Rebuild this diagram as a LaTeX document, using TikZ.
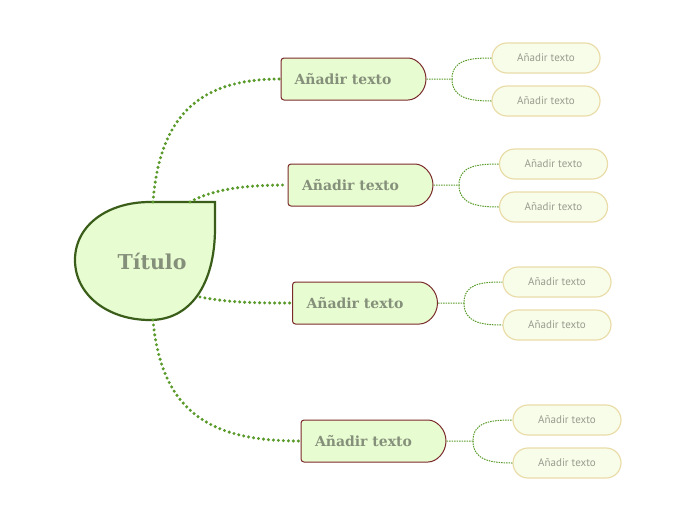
\documentclass[tikz,border=0pt]{standalone}
\usepackage{fontspec}
\setmainfont{DejaVu Serif}
\newfontfamily\subfont{PT Sans}
\usetikzlibrary{shapes.misc}
\definecolor{mainfill}{HTML}{E8FCD2}
\definecolor{mainborder}{HTML}{7A2A2A}
\definecolor{centerborder}{HTML}{3A5E1A}
\definecolor{linegreen}{HTML}{5A9A2A}
\definecolor{titlegrey}{HTML}{85907A}
\definecolor{subfill}{HTML}{F8FDEA}
\definecolor{subborder}{HTML}{EADCA8}
\definecolor{subtext}{HTML}{9A9C8E}
\tikzset{
  mainbranch/.style={rounded rectangle, rounded rectangle left arc=none, rounded corners=3pt,
    draw=mainborder, line width=1pt, fill=mainfill, minimum width=145pt, minimum height=42pt,
    inner sep=0pt},
  maintext/.style={font=\bfseries\fontsize{14}{16}\selectfont, text=titlegrey, inner sep=0pt},
  subbranch/.style={rounded rectangle, draw=subborder, line width=1.2pt, fill=subfill,
    minimum width=108pt, minimum height=30pt, inner sep=0pt,
    font=\subfont\fontsize{11}{13}\selectfont, text=subtext},
  bigline/.style={draw=linegreen, line width=3.4pt, line cap=round, dash pattern=on 0pt off 5pt},
  smallline/.style={draw=linegreen, line width=1pt, dash pattern=on 1.5pt off 1pt},
}
\begin{document}
\begin{tikzpicture}[x=1pt,y=-1pt]
\useasboundingbox (0,0) rectangle (696,520);
% central shape
\draw[fill=mainfill, draw=centerborder, line width=2.2pt]
  (215,202) -- (215,228) .. controls (215,285) and (190,320) .. (150,320)
  .. controls (108,320) and (75,295) .. (75,260)
  .. controls (75,225) and (108,202) .. (150,202) -- cycle;
\node[font=\bfseries\fontsize{20.5}{24}\selectfont, text=titlegrey] (center) at (152,261) {Título};
\coordinate (c1) at (153,202);
\coordinate (c2) at (190,202);
\coordinate (c3) at (200,297);
\coordinate (c4) at (153,320);
% main branches
\node[mainbranch] (m1) at (353.5,79) {};
\node[mainbranch] (m2) at (360.5,185) {};
\node[mainbranch] (m3) at (365,303) {};
\node[mainbranch] (m4) at (373.5,441) {};
\node[maintext] (t1) at (343,79) {Añadir texto};
\node[maintext] (t2) at (350.5,185) {Añadir texto};
\node[maintext] (t3) at (355,303) {Añadir texto};
\node[maintext] (t4) at (363.5,441) {Añadir texto};
\draw[bigline] (c1) .. controls (160,110) and (205,79) .. (m1.west);
\draw[bigline] (c2) .. controls (215,188) and (250,185) .. (m2.west);
\draw[bigline] (c3) .. controls (230,303) and (260,303) .. (m3.west);
\draw[bigline] (c4) .. controls (162,420) and (220,441) .. (m4.west);
% sub branches
\node[subbranch] (s1a) at (546,58) {Añadir texto};
\node[subbranch] (s1b) at (546,101) {Añadir texto};
\node[subbranch] (s2a) at (553.5,164) {Añadir texto};
\node[subbranch] (s2b) at (553.5,207) {Añadir texto};
\node[subbranch] (s3a) at (557,282) {Añadir texto};
\node[subbranch] (s3b) at (557,325) {Añadir texto};
\node[subbranch] (s4a) at (567,420) {Añadir texto};
\node[subbranch] (s4b) at (567,463) {Añadir texto};
\coordinate (k1) at (452,79);
\coordinate (k2) at (459,185);
\coordinate (k3) at (464,303);
\coordinate (k4) at (473,441);
\draw[smallline] (m1.east) -- (k1) .. controls +(0,-19) and +(-22,0) .. (s1a.west);
\draw[smallline] (k1) .. controls +(0,19) and +(-22,0) .. (s1b.west);
\draw[smallline] (m2.east) -- (k2) .. controls +(0,-19) and +(-22,0) .. (s2a.west);
\draw[smallline] (k2) .. controls +(0,19) and +(-22,0) .. (s2b.west);
\draw[smallline] (m3.east) -- (k3) .. controls +(0,-19) and +(-22,0) .. (s3a.west);
\draw[smallline] (k3) .. controls +(0,19) and +(-22,0) .. (s3b.west);
\draw[smallline] (m4.east) -- (k4) .. controls +(0,-19) and +(-22,0) .. (s4a.west);
\draw[smallline] (k4) .. controls +(0,19) and +(-22,0) .. (s4b.west);
\end{tikzpicture}
\end{document}
